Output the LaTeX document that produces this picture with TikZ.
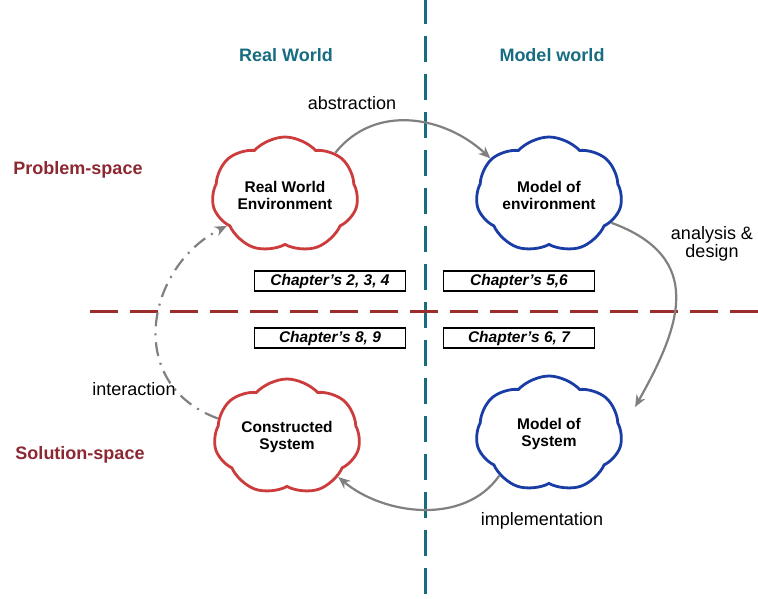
\documentclass[tikz,border=0pt]{standalone}
\usepackage{fontspec}
\setmainfont{Liberation Sans}
\usetikzlibrary{shapes.symbols,arrows.meta}
\definecolor{teal}{RGB}{22,108,128}
\definecolor{rowred}{RGB}{140,40,50}
\definecolor{cloudred}{RGB}{205,60,60}
\definecolor{cloudblue}{RGB}{25,60,165}
\definecolor{flow}{RGB}{128,128,128}
\definecolor{divred}{RGB}{155,45,45}
\tikzset{
  puff/.style={cloud, cloud puffs=7, cloud puff arc=95, cloud ignores aspect,
    minimum width=146pt, minimum height=116pt, inner sep=0pt, fill=white,
    line width=2.8pt, align=center, font=\fontsize{15.5}{17}\selectfont\bfseries},
  realcloud/.style={puff, draw=cloudred},
  modelcloud/.style={puff, draw=cloudblue},
  chapbox/.style={draw=black, line width=1.1pt, minimum width=151pt, minimum height=20pt,
    inner sep=0pt, font=\fontsize{15.5}{17}\selectfont\bfseries\itshape},
  header/.style={text=teal, font=\fontsize{18}{20}\selectfont\bfseries},
  rowlabel/.style={text=rowred, font=\fontsize{18}{20}\selectfont\bfseries},
  flowlabel/.style={text=black, font=\fontsize{18}{20}\selectfont, align=center},
  flowarrow/.style={draw=flow, line width=2.2pt, -{Stealth[length=12pt,width=10pt]}},
}
\begin{document}
\begin{tikzpicture}[x=1pt,y=-1pt]
\useasboundingbox (0,0) rectangle (758,599);

% quadrant dividers
\draw[teal, line width=3pt, dash pattern=on 26pt off 12pt] (425,-2) -- (425,599);
\draw[divred, line width=3pt, dash pattern=on 28pt off 12pt] (90,311) -- (758,311);

% column and row headings
\node[header] (hreal) at (286,55) {Real World};
\node[header] (hmodel) at (552,55) {Model world};
\node[rowlabel] (hprob) at (78,170) {Problem-space};
\node[rowlabel] (hsol) at (80,455) {Solution-space};

% chapter references
\node[chapbox] (c234) at (330,281) {Chapter's 2, 3, 4};
\node[chapbox] (c56)  at (519,281) {Chapter's 5,6};
\node[chapbox] (c89)  at (330,338) {Chapter's 8, 9};
\node[chapbox] (c67)  at (519,338) {Chapter's 6, 7};

% the four clouds
\node[realcloud]  (rwe) at (285,195) {Real World\\Environment};
\node[modelcloud] (moe) at (549,195) {Model of\\environment};
\node[realcloud]  (cs)  at (287,437) {Constructed\\System};
\node[modelcloud] (mos) at (549,434) {Model of\\System};

% transitions between the clouds
\draw[flowarrow] (rwe.40) .. controls +(40,-50) and +(-45,-42) .. (moe.148);
\draw[flowarrow] (moe.-24) .. controls +(95,35) and +(45,-80) .. ([shift={(24,6)}]mos.28);
\draw[flowarrow] (mos.-140) .. controls +(-35,50) and +(45,38) .. (cs.-38);
\draw[flowarrow, dash pattern=on 14pt off 7pt on 2pt off 7pt]
  (cs.165) .. controls +(-95,-35) and +(-80,40) .. (rwe.-152);

% transition labels
\node[flowlabel] (labs) at (352,103) {abstraction};
\node[flowlabel] (lana) at (712,244) {analysis \&\\[-2pt]design};
\node[flowlabel] (lint) at (134,389) {interaction};
\node[flowlabel] (limp) at (542,521) {implementation};
\end{tikzpicture}
\end{document}
